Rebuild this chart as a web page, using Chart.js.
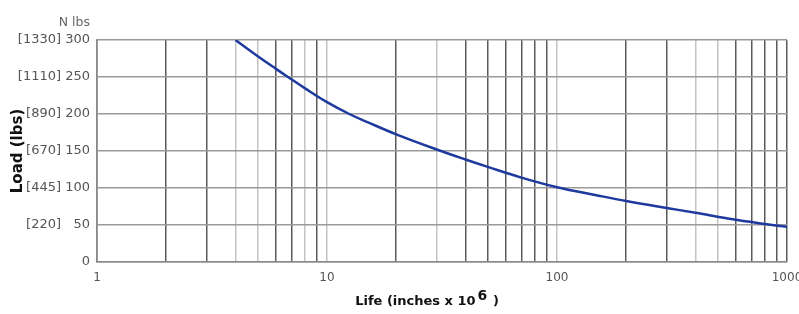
<!DOCTYPE html>
<html><head><meta charset="utf-8">
<script src="https://cdn.jsdelivr.net/npm/chart.js@4.4.0/dist/chart.umd.min.js"></script>
<style>html,body{margin:0;padding:0;background:#fff;}#wrap{width:799px;height:314px;}</style>
</head><body><div id="wrap"><canvas id="c" width="799" height="314"></canvas></div>
<script>
// Data
const lifeValues = [4, 5, 6, 7, 8, 10, 12.5, 15, 20, 30, 40, 50, 70, 100, 150, 200, 300, 400, 600, 800, 1000];
const loadValues = [300, 278, 261, 247, 235, 216, 200, 189, 172.5, 152, 138.5, 128.5, 114, 101, 90, 82.5, 73, 66.5, 57, 51.5, 47.5];
const xTickLabels = [1, 10, 100, 1000];
const yTickValues = [0, 50, 100, 150, 200, 250, 300];
const yTickLabels = ['0', '[220]   50', '[445] 100', '[670] 150', '[890] 200', '[1110] 250', '[1330] 300'];
const unitLabel = 'N lbs';
const xTitleMain = 'Life (inches x 10';
const xTitleExp = '6';
const xTitleEnd = ' )';
const yTitle = 'Load (lbs)';

// grid values for log axis (1..9 per decade)
const xGridValues = [];
[1, 10, 100].forEach(d => { for (let k = 1; k <= 9; k++) xGridValues.push(d * k); });
xGridValues.push(1000);
const lightGrid = [4, 5, 8, 10, 30, 100, 400, 500];

const points = lifeValues.map((v, i) => ({x: v, y: loadValues[i]}));
const FONT = '"DejaVu Sans", "Liberation Sans", Arial, sans-serif';

const textPlugin = {
  id: 'extraText',
  afterDraw(chart) {
    const ctx = chart.ctx;
    ctx.save();
    ctx.font = '12.5px ' + FONT;
    ctx.fillStyle = '#666';
    ctx.textAlign = 'right';
    ctx.textBaseline = 'middle';
    ctx.fillText(unitLabel, 90, 23);
    // x axis title with raised exponent
    ctx.fillStyle = '#111';
    ctx.font = 'bold 13px ' + FONT;
    ctx.textAlign = 'left';
    ctx.textBaseline = 'alphabetic';
    const w1 = ctx.measureText(xTitleMain).width;
    const w3 = ctx.measureText(xTitleEnd).width;
    ctx.font = 'bold 14px ' + FONT;
    const w2 = ctx.measureText(xTitleExp).width;
    const total = w1 + w2 + 3 + w3;
    const x0 = 427 - total / 2;
    const base = 305;
    ctx.font = 'bold 13px ' + FONT;
    ctx.fillText(xTitleMain, x0, base);
    ctx.fillText(xTitleEnd, x0 + w1 + w2 + 3, base);
    ctx.font = 'bold 14px ' + FONT;
    ctx.fillText(xTitleExp, x0 + w1 + 2, base - 5);
    ctx.restore();
  }
};

new Chart(document.getElementById('c'), {
  type: 'line',
  data: {
    datasets: [{
      data: points,
      borderColor: '#1f3a9e',
      borderWidth: 2.5,
      pointRadius: 0,
      tension: 0.4,
      fill: false
    }]
  },
  options: {
    responsive: false,
    animation: false,
    devicePixelRatio: 1,
    layout: {padding: {left: 5, right: 12, top: 40, bottom: 0}},
    plugins: {legend: {display: false}, tooltip: {enabled: false}},
    scales: {
      x: {
        type: 'logarithmic',
        min: 1, max: 1000,
        afterBuildTicks: s => { s.ticks = xGridValues.map(v => ({value: v})); },
        afterFit: s => { s.height = 52; s.paddingRight = 0; s.paddingLeft = 0; },
        ticks: {
          autoSkip: false, maxRotation: 0, padding: 9,
          color: '#555',
          font: {family: FONT, size: 12},
          callback: v => xTickLabels.includes(v) ? String(v) : ''
        },
        grid: {
          drawTicks: false,
          lineWidth: 1.5,
          color: ctx => (ctx.tick && lightGrid.includes(ctx.tick.value)) ? '#c4c4c4' : '#5a5a5a'
        },
        border: {color: '#8a8a8a', width: 1.5}
      },
      y: {
        min: 0, max: 300,
        afterBuildTicks: s => { s.ticks = yTickValues.map(v => ({value: v})); },
        afterFit: s => { s.width = 92; },
        ticks: {
          padding: 7, color: '#555',
          font: {family: FONT, size: 13},
          callback: v => { const i = yTickValues.indexOf(v); return i >= 0 ? yTickLabels[i] : ''; }
        },
        grid: {drawTicks: false, lineWidth: 1.5, color: '#9a9a9a'},
        border: {color: '#8a8a8a', width: 1.5},
        title: {
          display: true, text: yTitle, color: '#111',
          font: {family: FONT, size: 15, weight: 'bold'},
          padding: {top: 4, bottom: 0}
        }
      }
    }
  },
  plugins: [textPlugin]
});
</script>
</body></html>
